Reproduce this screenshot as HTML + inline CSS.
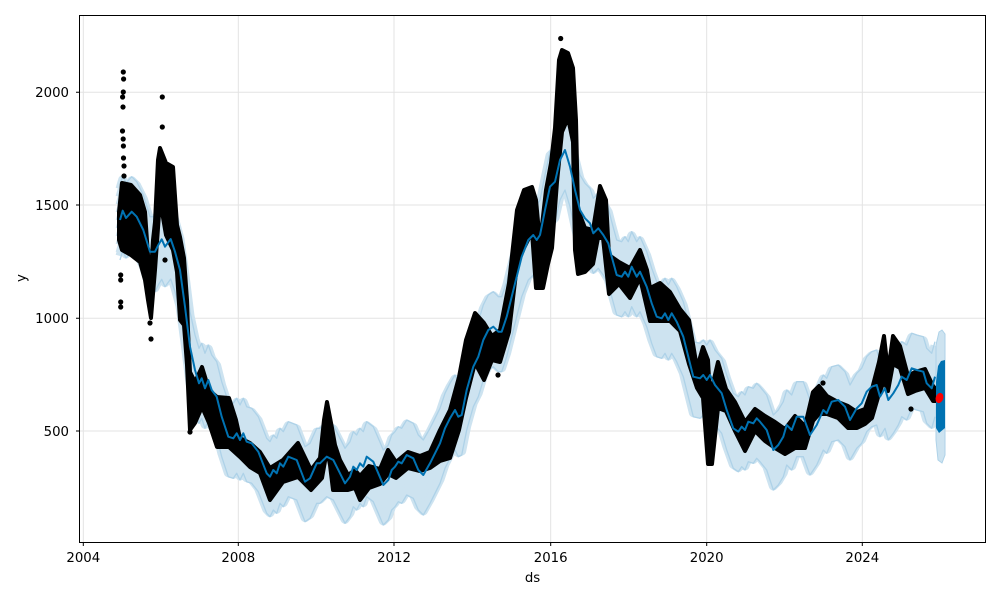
<!DOCTYPE html>
<html><head><meta charset="utf-8">
<style>
html,body{margin:0;padding:0;background:#fff;}
svg{display:block;}
text{font-family:"DejaVu Sans","Liberation Sans",sans-serif;font-size:13.3px;fill:#000;}
</style></head>
<body>
<svg width="1000" height="600" viewBox="0 0 1000 600" xmlns="http://www.w3.org/2000/svg">
<defs>
<polyline id="ln" fill="none" stroke-linejoin="round" points="120,220 122.7,210.7 126,218 131.7,211.7 136.7,216.7 143.3,230 150,251.7 155,251.7 158.3,245 161.7,239.3 165,246.7 170.7,239 175,251.7 180,270 185,306.7 190,346.7 195,370 199,383.3 201.7,378.3 205,388.3 208.3,380 211.7,390 216.7,396.7 221.7,416.7 228.3,436.7 233.3,438.3 236.7,433.3 240,440 243.3,433.3 246.7,441.7 251.7,443.3 258.3,451.7 266.7,473.3 270,476.7 273.3,470 276.7,473.3 280,463.3 283.3,466.7 288.3,456.7 296.7,460 305,481.7 310,478.3 316.7,463.3 320,463.3 326.7,456.7 333.3,460 340,473.3 345,483.3 350,476.7 353.3,466.7 356.7,470 360,463.3 363.3,466.7 366.7,456.7 373.3,461.7 378.3,473.3 383.3,485 388.3,480 391.7,470 395,466.7 398.3,461.7 401.7,463.3 406.7,455 413.3,458.3 418.3,470 423.3,475 430,463.3 435,453.3 440,443.3 445,428.3 450,418.3 455,410 458.3,416.7 461.7,415 466.7,390 473.3,366.7 478.3,356.7 483.3,340 488.3,330 493.3,326.7 498.3,331.7 501.7,331.7 506.7,316.7 511.7,296.7 516.7,276.7 521.7,256.7 528.3,240 533.3,235 536.7,240 540,235 545,210 550,186.7 555,181.7 560,160 565,150 570,166.7 575,190 580,210 585,218.3 590,223.3 593.3,233.3 598.3,228.3 603.3,235 608.3,243.3 611.7,256.7 616.7,275 621.7,276.7 625,271.7 628.3,276.7 631.7,266.7 636.7,276.7 640,271.7 646.7,286.7 651.7,303.3 656.7,316.7 661.7,318.3 665,313.3 668.3,320 671.7,313.3 676.7,321.7 683.3,336.7 688.3,356.7 693.3,376.7 700,378.3 703.3,375 706.7,380 710,375 715,385 721.7,393.3 726.7,410 733.3,428.3 738.3,431.7 741.7,426.7 745,430 748.3,421.7 753.3,423.3 756.7,418.3 760,421.7 766.7,430 773.3,450 778.3,445 783.3,436.7 786.7,425 791.7,430 796.7,416.7 803.3,416.7 810,435 816.7,425 823.3,410 826.7,413.3 831.7,401.7 838.3,400 845,406.7 850,420 856.7,408.3 861.7,403.3 866.7,391.7 871.7,386.7 876.7,385 880,396.7 885,388.3 888.3,400 893.3,393.3 898.3,385 901.7,376.7 906.7,380 911.7,368.3 916.7,370 923.3,371.7 926.7,383.3 931.7,388.3 935,376.7"/>
</defs>

<g stroke="#e3e3e3" stroke-width="1">
<path d="M83.3 15.5V542.5M238.3 15.5V542.5M394 15.5V542.5M550.7 15.5V542.5M706.7 15.5V542.5M862.3 15.5V542.5M79.5 92.3H985.5M79.5 205H985.5M79.5 318.3H985.5M79.5 431H985.5"/>
</g>

<g stroke="#cde3f0" stroke-width="9">
<use href="#ln" transform="translate(0,-31)"/>
<use href="#ln" transform="translate(0,-23)"/>
<use href="#ln" transform="translate(0,-15)"/>
<use href="#ln" transform="translate(0,-7)"/>
<use href="#ln" transform="translate(0,1)"/>
<use href="#ln" transform="translate(0,9)"/>
<use href="#ln" transform="translate(0,17)"/>
<use href="#ln" transform="translate(0,25)"/>
<use href="#ln" transform="translate(0,33)"/>
<use href="#ln" transform="translate(0,36)"/>
</g>
<g stroke="#aed2e8" stroke-width="1.3">
<use href="#ln" transform="translate(0,-35)"/>
<use href="#ln" transform="translate(0,40)"/>
</g>
<polygon points="936,345 939,332 942,330 945,334 945,455 942,463 938,460 936,440" fill="#cde3f0" stroke="#aed2e8" stroke-width="1"/>

<polygon fill="#000" stroke="#000" stroke-width="4" stroke-linejoin="round" points="119,212 122,183 131,185 140,195 145,212 148,255 151,272 153,240 155,222 158,160 160,148 166,163 173,167 177,225 180,237 184,258 187,300 188,330 190,372 195,382 202,367 209,390 217,397 229,398 236,420 240,438 250,443 260,452 270,468 283,460 298,443 311,470 320,458 324,420 327,402 332,428 335,445 340,460 348,475 355,470 360,476 369,466 380,469 388,450 396,462 408,452 420,456 430,452 440,430 450,410 459,377 466,340 475,313 484,323 492,336 500,330 509,283 517,210 524,190 532,187 536,200 540,243 546,190 551,163 555,128 559,60 562,50 568,53 573,68 576,120 578,210 585,228 593,230 600,186 606,200 609,255 619,262 630,268 640,250 647,270 650,288 660,283 670,292 680,309 689,320 697,368 703,347 708,360 710,396 718,362 726,389 735,402 745,422 755,409 765,416 775,422 785,429 795,416 805,426 813,392 819,386 827,396 838,402 848,406 857,412 865,409 872,389 879,362 884,336 888,372 893,336 900,346 908,376 915,372 925,369 933,386 937,390 937,401 933,401 925,388 915,391 908,394 900,368 893,364 888,391 884,381 879,394 872,418 865,424 857,428 848,428 838,418 827,414 819,414 813,421 805,448 795,448 785,454 775,448 765,441 755,431 745,451 735,431 726,411 718,408 712,464 708,464 703,398 697,388 689,364 680,331 670,321 660,321 650,321 640,278 630,298 619,284 609,294 603,238 598,238 593,264 585,272 578,274 575,250 573,142 568,118 562,132 557,182 552,248 548,264 543,288 536,288 532,232 524,248 517,265 509,332 500,362 492,360 484,380 475,363 466,398 459,430 450,458 440,461 430,468 420,471 408,468 396,478 388,474 380,484 369,488 360,500 355,488 348,490 340,490 333,490 330,465 327,450 322,478 311,490 298,477 283,482 270,500 260,473 250,467 240,457 229,447 217,447 209,423 202,407 195,423 190,430 187,365 184,325 180,320 177,272 173,250 166,235 160,200 155,270 151,318 148,300 145,280 140,262 131,255 122,250 119,240"/>

<path fill="#000" d="M123.3 72m-2.6 0a2.6 2.6 0 1 0 5.2 0a2.6 2.6 0 1 0 -5.2 0M123.6 79m-2.6 0a2.6 2.6 0 1 0 5.2 0a2.6 2.6 0 1 0 -5.2 0M123.3 92m-2.6 0a2.6 2.6 0 1 0 5.2 0a2.6 2.6 0 1 0 -5.2 0M122.6 97m-2.6 0a2.6 2.6 0 1 0 5.2 0a2.6 2.6 0 1 0 -5.2 0M123 107m-2.6 0a2.6 2.6 0 1 0 5.2 0a2.6 2.6 0 1 0 -5.2 0M122.5 131m-2.6 0a2.6 2.6 0 1 0 5.2 0a2.6 2.6 0 1 0 -5.2 0M123.2 139m-2.6 0a2.6 2.6 0 1 0 5.2 0a2.6 2.6 0 1 0 -5.2 0M123.4 146m-2.6 0a2.6 2.6 0 1 0 5.2 0a2.6 2.6 0 1 0 -5.2 0M123.5 158m-2.6 0a2.6 2.6 0 1 0 5.2 0a2.6 2.6 0 1 0 -5.2 0M124 166m-2.6 0a2.6 2.6 0 1 0 5.2 0a2.6 2.6 0 1 0 -5.2 0M124 176m-2.6 0a2.6 2.6 0 1 0 5.2 0a2.6 2.6 0 1 0 -5.2 0M120.7 275m-2.6 0a2.6 2.6 0 1 0 5.2 0a2.6 2.6 0 1 0 -5.2 0M120.7 280m-2.6 0a2.6 2.6 0 1 0 5.2 0a2.6 2.6 0 1 0 -5.2 0M120.7 302m-2.6 0a2.6 2.6 0 1 0 5.2 0a2.6 2.6 0 1 0 -5.2 0M120.7 307m-2.6 0a2.6 2.6 0 1 0 5.2 0a2.6 2.6 0 1 0 -5.2 0M162.3 97m-2.6 0a2.6 2.6 0 1 0 5.2 0a2.6 2.6 0 1 0 -5.2 0M162.3 127m-2.6 0a2.6 2.6 0 1 0 5.2 0a2.6 2.6 0 1 0 -5.2 0M165 260m-2.6 0a2.6 2.6 0 1 0 5.2 0a2.6 2.6 0 1 0 -5.2 0M150 323m-2.6 0a2.6 2.6 0 1 0 5.2 0a2.6 2.6 0 1 0 -5.2 0M151 339m-2.6 0a2.6 2.6 0 1 0 5.2 0a2.6 2.6 0 1 0 -5.2 0M190 432m-2.6 0a2.6 2.6 0 1 0 5.2 0a2.6 2.6 0 1 0 -5.2 0M560.7 38.5m-2.6 0a2.6 2.6 0 1 0 5.2 0a2.6 2.6 0 1 0 -5.2 0M911 409m-2.6 0a2.6 2.6 0 1 0 5.2 0a2.6 2.6 0 1 0 -5.2 0M885 384m-2.6 0a2.6 2.6 0 1 0 5.2 0a2.6 2.6 0 1 0 -5.2 0M823 383m-2.6 0a2.6 2.6 0 1 0 5.2 0a2.6 2.6 0 1 0 -5.2 0M498 375m-2.6 0a2.6 2.6 0 1 0 5.2 0a2.6 2.6 0 1 0 -5.2 0"/>

<use href="#ln" stroke="#0072b2" stroke-width="2"/>
<polygon points="936,382 938,366 941,361 945,360 945,428 939,433 936,428" fill="#0072b2"/>
<ellipse cx="939.5" cy="398" rx="3.8" ry="5.2" fill="#ff0000" transform="rotate(20 939.5 398)"/>

<rect x="79.5" y="15.5" width="906" height="527" fill="none" stroke="#000" stroke-width="1"/>
<path stroke="#000" stroke-width="1" d="M83.3 542.5v3.5M238.3 542.5v3.5M394 542.5v3.5M550.7 542.5v3.5M706.7 542.5v3.5M862.3 542.5v3.5M76 92.3h3.5M76 205h3.5M76 318.3h3.5M76 431h3.5"/>
<g text-anchor="middle">
<text x="83.3" y="562">2004</text>
<text x="238.3" y="562">2008</text>
<text x="394" y="562">2012</text>
<text x="550.7" y="562">2016</text>
<text x="706.7" y="562">2020</text>
<text x="862.3" y="562">2024</text>
<text x="532.5" y="582">ds</text>
</g>
<g text-anchor="end">
<text x="69" y="97">2000</text>
<text x="69" y="210">1500</text>
<text x="69" y="323">1000</text>
<text x="69" y="436">500</text>
</g>
<text transform="translate(25.5,278) rotate(-90)" text-anchor="middle">y</text>
</svg>
</body></html>
